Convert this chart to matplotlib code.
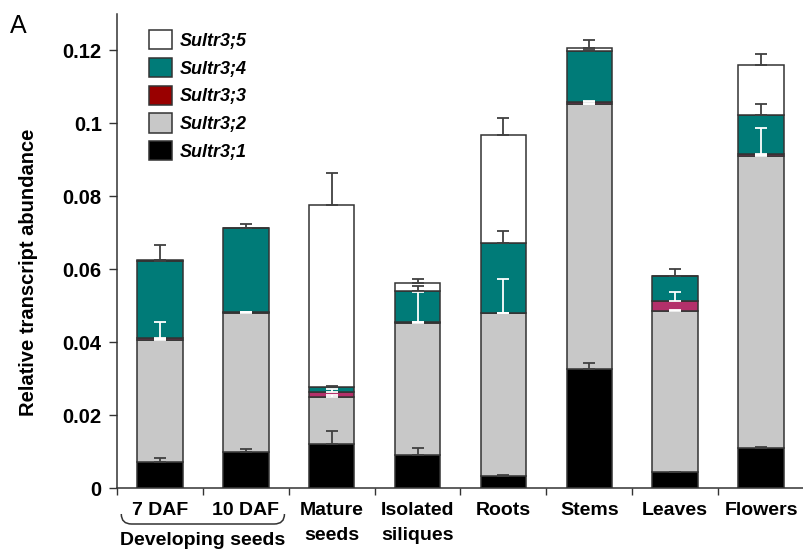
import matplotlib
matplotlib.use("Agg")
import matplotlib.pyplot as plt
from matplotlib.patches import Patch
from matplotlib.path import Path
from matplotlib.patches import PathPatch
from matplotlib.transforms import blended_transform_factory
import numpy as np

plt.rcParams['font.family'] = ['Liberation Sans', 'DejaVu Sans']

categories = ["7 DAF", "10 DAF", "Mature\nseeds", "Isolated\nsiliques", "Roots", "Stems", "Leaves", "Flowers"]
series_names = ["Sultr3;1", "Sultr3;2", "Sultr3;3", "Sultr3;4", "Sultr3;5"]

sultr31 = [0.0070, 0.0098, 0.0121, 0.0090, 0.0034, 0.0327, 0.0043, 0.0111]
sultr32 = [0.0337, 0.0382, 0.0129, 0.0363, 0.0445, 0.0725, 0.0442, 0.0799]
sultr33 = [0.0004, 0.0002, 0.0014, 0.0002, 0.0001, 0.0007, 0.0027, 0.0007]
sultr34 = [0.0212, 0.0231, 0.0013, 0.0085, 0.0192, 0.0139, 0.0069, 0.0106]
sultr35 = [0.0002, 0.0001, 0.0498, 0.0022, 0.0297, 0.0009, 0.0000, 0.0136]

err31 = [0.0013, 0.0010, 0.0035, 0.0021, 0.0002, 0.0015, 0.0002, 0.0002]
err32 = [0.0003, 0.0003, 0.0005, 0.0003, 0.0002, 0.0002, 0.0003, 0.0003]
err33 = [0.0043, 0.0002, 0.0008, 0.0083, 0.0093, 0.0003, 0.0026, 0.0071]
err34 = [0.0043, 0.0011, 0.0003, 0.0014, 0.0033, 0.0003, 0.0021, 0.0031]
err35 = [0.0000, 0.0000, 0.0089, 0.0011, 0.0047, 0.0022, 0.0000, 0.0032]

values = [sultr31, sultr32, sultr33, sultr34, sultr35]
errors = [err31, err32, err33, err34, err35]
bar_colors = ["#000000", "#C8C8C8", "#B3306A", "#007B78", "#FFFFFF"]
legend_colors = ["#000000", "#C8C8C8", "#990000", "#007B78", "#FFFFFF"]
err_colors = ["#404040", "#FFFFFF", "#FFFFFF", "#404040", "#404040"]

fig = plt.figure(figsize=(8.04, 5.5), dpi=100)
ax = fig.add_axes([117/804, 1-488/550, 1-117/804, (488-14)/550])

x = np.arange(len(categories))
width = 0.53
bottom = np.zeros(len(categories))
tops = []
for vals, col in zip(values, bar_colors):
    v = np.array(vals)
    ax.bar(x, v, width, bottom=bottom, color=col, edgecolor="#333333", linewidth=1.1, zorder=2)
    bottom = bottom + v
    tops.append(bottom.copy())

for top, err, ec in zip(tops, errors, err_colors):
    e = np.array(err)
    ax.errorbar(x, top, yerr=[np.zeros_like(e), e], fmt='none', ecolor=ec,
                elinewidth=1.3, capsize=4, capthick=1.3, zorder=4)

ax.set_xlim(-0.5, 7.5)
ax.set_ylim(0, 0.13)
ax.set_yticks([0, 0.02, 0.04, 0.06, 0.08, 0.1, 0.12])
ax.set_yticklabels(["0", "0.02", "0.04", "0.06", "0.08", "0.1", "0.12"],
                   fontsize=14.5, fontweight='bold')
ax.set_xticks(np.arange(-0.5, 8.0, 1.0))
ax.set_xticklabels([])
ax.tick_params(axis='y', direction='out', length=6, width=1, pad=5, color="#333333")
ax.tick_params(axis='x', direction='out', length=5, width=1, color="#333333")
for s in ['top', 'right']:
    ax.spines[s].set_visible(False)
for s in ['left', 'bottom']:
    ax.spines[s].set_color("#333333")
    ax.spines[s].set_linewidth(1.1)

trans = blended_transform_factory(ax.transData, fig.transFigure)
for i, lab in enumerate(categories):
    ax.text(i, 1-502/550, lab, transform=trans, ha='center', va='top',
            fontsize=14, fontweight='bold', linespacing=1.6)

# brace under developing seeds
xb0, xb1 = -0.45, 1.45
yb_end, yb_mid = 1-514/550, 1-524/550
verts = [(xb0, yb_end), (xb0, yb_mid), (xb0 + 0.12, yb_mid),
         (xb1 - 0.12, yb_mid), (xb1, yb_mid), (xb1, yb_end)]
codes = [Path.MOVETO, Path.CURVE3, Path.CURVE3, Path.LINETO, Path.CURVE3, Path.CURVE3]
brace = PathPatch(Path(verts, codes), transform=trans, fill=False, edgecolor="#333333",
                  linewidth=1.1, clip_on=False)
ax.add_patch(brace)
ax.text(0.5, 1-532/550, "Developing seeds", transform=trans, ha='center', va='top',
        fontsize=14, fontweight='bold')

# legend
handles = [Patch(facecolor=legend_colors[i], edgecolor="#333333", linewidth=1.1)
           for i in range(4, -1, -1)]
labels = [series_names[i] for i in range(4, -1, -1)]
leg = ax.legend(handles, labels, loc='upper left', bbox_to_anchor=(142/804, 1-23/550),
                bbox_transform=fig.transFigure, frameon=False,
                prop={'weight': 'bold', 'style': 'italic', 'size': 13},
                handlelength=1.25, handleheight=1.25, handletextpad=0.45, labelspacing=0.45,
                borderaxespad=0)

fig.text(29/804, 1-272/550, "Relative transcript abundance", rotation=90, ha='center',
         va='center', fontsize=14.5, fontweight='bold')
fig.text(10/804, 1-26/550, "A", fontsize=18, ha='left', va='center')

fig.savefig("out.png", dpi=100)
